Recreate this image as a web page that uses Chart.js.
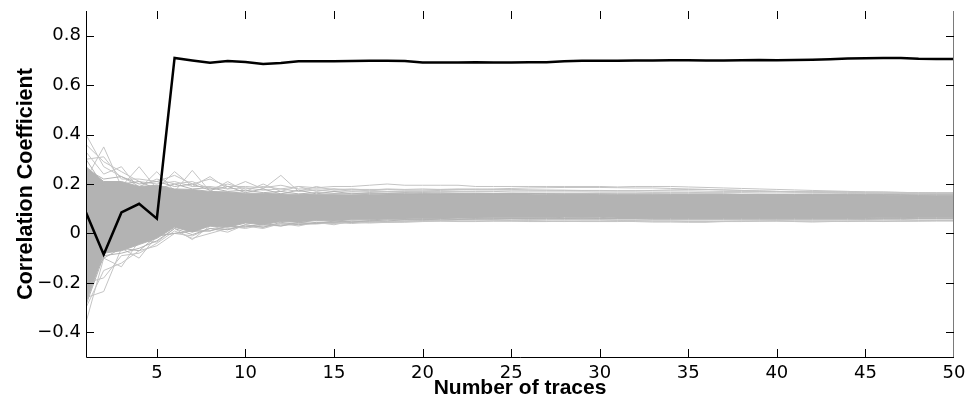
<!DOCTYPE html>
<html><head><meta charset="utf-8">
<script src="https://cdn.jsdelivr.net/npm/chart.js@4/dist/chart.umd.min.js"></script>
<style>html,body{margin:0;padding:0;background:#fff;}canvas{display:block;}</style>
</head><body>
<canvas id="c" width="965" height="403"></canvas>
<script>
const traces = [1,2,3,4,5,6,7,8,9,10,11,12,13,14,15,16,17,18,19,20,21,22,23,24,25,26,27,28,29,30,31,32,33,34,35,36,37,38,39,40,41,42,43,44,45,46,47,48,49,50];
const xTickValues = [5,10,15,20,25,30,35,40,45,50];
const yTickValues = [-0.4,-0.2,0,0.2,0.4,0.6,0.8];
const yTickLabels = ['\u22120.4','\u22120.2','0','0.2','0.4','0.6','0.8'];

// correct key guess
const correctKey = [0.085,-0.085,0.085,0.12,0.06,0.71,0.70,0.691,0.698,0.694,0.686,0.69,0.697,0.697,0.697,0.698,0.699,0.699,0.698,0.692,0.692,0.692,0.693,0.692,0.692,0.693,0.693,0.697,0.699,0.699,0.699,0.700,0.700,0.701,0.701,0.700,0.700,0.701,0.702,0.701,0.702,0.703,0.705,0.708,0.709,0.71,0.71,0.707,0.706,0.706];

// dense band of wrong key guesses
const bandUpper = [0.27,0.21,0.21,0.19,0.195,0.18,0.178,0.17,0.168,0.163,0.162,0.16,0.158,0.157,0.157,0.156,0.158,0.16,0.16,0.16,0.16,0.16,0.16,0.16,0.16,0.16,0.158,0.158,0.158,0.157,0.156,0.156,0.156,0.156,0.156,0.156,0.156,0.156,0.156,0.156,0.155,0.155,0.155,0.155,0.155,0.155,0.154,0.153,0.152,0.152];
const bandLower = [-0.28,-0.08,-0.07,-0.045,-0.02,0.025,0.005,0.03,0.025,0.042,0.035,0.048,0.045,0.052,0.05,0.055,0.055,0.058,0.058,0.06,0.06,0.062,0.062,0.063,0.063,0.063,0.063,0.065,0.065,0.065,0.062,0.062,0.062,0.062,0.062,0.062,0.062,0.062,0.062,0.062,0.062,0.062,0.062,0.062,0.062,0.063,0.064,0.065,0.065,0.065];
const bandEdgeA = [0.26,0.22,0.23,0.20,0.21,0.19,0.20,0.175,0.19,0.165,0.18,0.16,0.175,0.16,0.17,0.16,0.165,0.162,0.165,0.162,0.164,0.162,0.163,0.162,0.162,0.161,0.161,0.16,0.16,0.16,0.159,0.159,0.159,0.158,0.158,0.158,0.158,0.158,0.158,0.157,0.157,0.157,0.157,0.157,0.156,0.156,0.156,0.155,0.155,0.155];
const bandEdgeB = [-0.29,-0.09,-0.08,-0.06,-0.03,0.02,-0.005,0.02,0.015,0.035,0.025,0.045,0.035,0.045,0.045,0.05,0.05,0.055,0.055,0.056,0.058,0.058,0.058,0.06,0.06,0.06,0.06,0.06,0.06,0.06,0.06,0.06,0.058,0.058,0.058,0.058,0.058,0.058,0.058,0.058,0.058,0.058,0.058,0.058,0.058,0.06,0.06,0.06,0.06,0.06];
const bandEdgeC = [0.30,0.19,0.20,0.21,0.18,0.20,0.18,0.185,0.17,0.175,0.165,0.17,0.16,0.165,0.162,0.163,0.162,0.163,0.163,0.165,0.163,0.163,0.162,0.162,0.162,0.162,0.16,0.16,0.16,0.16,0.16,0.16,0.16,0.16,0.16,0.16,0.16,0.158,0.158,0.158,0.158,0.158,0.158,0.158,0.157,0.157,0.157,0.156,0.156,0.156];
const bandEdgeD = [-0.22,-0.10,-0.06,-0.07,-0.01,0.0,0.01,0.01,0.03,0.025,0.04,0.03,0.045,0.04,0.05,0.045,0.052,0.05,0.056,0.055,0.058,0.057,0.06,0.058,0.06,0.06,0.062,0.06,0.062,0.06,0.06,0.06,0.06,0.06,0.06,0.06,0.06,0.06,0.06,0.06,0.06,0.06,0.06,0.06,0.06,0.062,0.062,0.062,0.062,0.062];

// sparse outlying wrong key guesses
const outUp1 = [0.40,0.27,0.23,0.19,0.22,0.20,0.21,0.18,0.20,0.18,0.19,0.18,0.19,0.185,0.19,0.19,0.195,0.20,0.195,0.195,0.195,0.195,0.19,0.19,0.19,0.19,0.19,0.19,0.19,0.19,0.188,0.19,0.19,0.19,0.188,0.186,0.184,0.182,0.18,0.178,0.176,0.174,0.172,0.17,0.168,0.167,0.166,0.165,0.165,0.165];
const outUp2 = [0.22,0.35,0.19,0.27,0.18,0.25,0.19,0.23,0.18,0.21,0.18,0.235,0.17,0.19,0.175,0.18,0.175,0.18,0.178,0.18,0.178,0.178,0.176,0.176,0.175,0.175,0.175,0.175,0.174,0.174,0.173,0.173,0.172,0.172,0.172,0.171,0.17,0.17,0.17,0.17,0.168,0.168,0.167,0.166,0.165,0.164,0.163,0.162,0.162,0.162];
const outUp3 = [0.33,0.24,0.27,0.18,0.25,0.17,0.255,0.17,0.21,0.17,0.20,0.17,0.19,0.17,0.18,0.17,0.175,0.17,0.17,0.17,0.17,0.17,0.17,0.17,0.168,0.168,0.168,0.168,0.168,0.167,0.167,0.167,0.166,0.166,0.166,0.165,0.165,0.165,0.164,0.164,0.164,0.163,0.163,0.162,0.162,0.161,0.161,0.16,0.16,0.16];
const outUp4 = [0.30,0.31,0.22,0.22,0.21,0.235,0.20,0.22,0.19,0.19,0.185,0.195,0.18,0.18,0.18,0.178,0.178,0.178,0.176,0.176,0.178,0.18,0.18,0.178,0.178,0.176,0.175,0.174,0.173,0.172,0.172,0.172,0.174,0.176,0.178,0.178,0.176,0.174,0.172,0.17,0.17,0.17,0.17,0.17,0.168,0.168,0.166,0.165,0.164,0.164];
const outUp5 = [0.36,0.29,0.25,0.21,0.20,0.21,0.19,0.19,0.18,0.185,0.175,0.18,0.17,0.175,0.17,0.172,0.17,0.17,0.172,0.172,0.174,0.176,0.178,0.18,0.182,0.184,0.185,0.186,0.186,0.186,0.185,0.184,0.184,0.182,0.18,0.178,0.176,0.174,0.172,0.17,0.168,0.166,0.165,0.164,0.163,0.162,0.162,0.161,0.16,0.16];
const outLo1 = [-0.36,-0.10,-0.135,-0.03,-0.035,0.02,-0.025,0.03,0.015,0.03,0.02,0.04,0.035,0.04,0.04,0.045,0.042,0.045,0.045,0.048,0.05,0.05,0.05,0.05,0.05,0.048,0.048,0.05,0.05,0.05,0.05,0.048,0.046,0.046,0.045,0.045,0.048,0.05,0.05,0.05,0.048,0.046,0.048,0.05,0.05,0.05,0.05,0.052,0.052,0.052];
const outLo2 = [-0.26,-0.235,-0.06,-0.10,-0.01,0.0,0.01,0.01,0.03,0.02,0.035,0.03,0.04,0.038,0.045,0.04,0.045,0.045,0.048,0.05,0.052,0.055,0.055,0.054,0.052,0.05,0.05,0.048,0.05,0.05,0.052,0.052,0.05,0.05,0.048,0.048,0.05,0.05,0.05,0.052,0.05,0.05,0.05,0.048,0.05,0.05,0.05,0.05,0.052,0.052];
const outLo3 = [-0.30,-0.15,-0.12,-0.07,-0.05,0.0,-0.01,0.02,0.005,0.035,0.025,0.04,0.03,0.045,0.035,0.05,0.045,0.05,0.05,0.052,0.052,0.055,0.055,0.055,0.055,0.056,0.056,0.056,0.056,0.056,0.055,0.055,0.055,0.055,0.055,0.055,0.055,0.055,0.055,0.055,0.055,0.055,0.055,0.055,0.056,0.056,0.056,0.058,0.058,0.058];
const outLo4 = [-0.20,-0.18,-0.09,-0.08,-0.04,0.01,-0.02,0.0,0.02,0.028,0.03,0.035,0.04,0.04,0.042,0.045,0.048,0.046,0.05,0.05,0.05,0.048,0.048,0.05,0.05,0.052,0.05,0.05,0.048,0.048,0.048,0.05,0.05,0.05,0.05,0.05,0.048,0.048,0.05,0.05,0.05,0.05,0.05,0.05,0.05,0.048,0.05,0.05,0.05,0.05];

const pts = arr => arr.map((v,i)=>({x:traces[i], y:v}));
const BAND = '#b3b3b3', LIGHT = '#c4c4c4';
const line = (arr, color, w) => ({data:pts(arr), borderColor:color, borderWidth:w, pointRadius:0, tension:0, fill:false});

const datasets = [
  line(correctKey, '#000', 2.5),
  line(bandEdgeA, BAND, 1),
  line(bandEdgeB, BAND, 1),
  line(bandEdgeC, BAND, 1),
  line(bandEdgeD, BAND, 1),
  Object.assign(line(bandUpper, BAND, 1), {fill:'+1', backgroundColor:BAND}),
  line(bandLower, BAND, 1),
  line(outUp1, LIGHT, 1), line(outUp2, LIGHT, 1), line(outUp3, LIGHT, 1), line(outUp4, LIGHT, 1), line(outUp5, LIGHT, 1),
  line(outLo1, LIGHT, 1), line(outLo2, LIGHT, 1), line(outLo3, LIGHT, 1), line(outLo4, LIGHT, 1)
];

const frame = {
  id:'frame',
  afterDraw(chart){
    const {ctx, chartArea:a, scales:{x,y}} = chart;
    const L = 8;
    ctx.save();
    ctx.lineWidth = 1;
    ctx.strokeStyle = '#000';
    ctx.beginPath();
    ctx.moveTo(a.left+0.5, a.top); ctx.lineTo(a.left+0.5, a.bottom+0.5); ctx.lineTo(a.right, a.bottom+0.5);
    ctx.stroke();
    ctx.strokeStyle = '#7a7a7a';
    ctx.beginPath(); ctx.moveTo(a.right-0.5, a.top); ctx.lineTo(a.right-0.5, a.bottom); ctx.stroke();
    ctx.strokeStyle = '#000';
    ctx.beginPath();
    xTickValues.forEach(v=>{ const px = Math.round(x.getPixelForValue(v))+0.5;
      if (px < a.right-2) { ctx.moveTo(px, a.bottom); ctx.lineTo(px, a.bottom-L); ctx.moveTo(px, a.top); ctx.lineTo(px, a.top+L); } });
    yTickValues.forEach(v=>{ const py = Math.round(y.getPixelForValue(v))+0.5;
      ctx.moveTo(a.left, py); ctx.lineTo(a.left+L, py); ctx.moveTo(a.right, py); ctx.lineTo(a.right-L, py); });
    ctx.stroke();
    ctx.restore();
  }
};

new Chart(document.getElementById('c'), {
  type:'line',
  data:{datasets},
  options:{
    responsive:false, animation:false, devicePixelRatio:1,
    layout:{padding:{left:0,right:11,top:11,bottom:0}},
    plugins:{legend:{display:false}, tooltip:{enabled:false}},
    scales:{
      x:{type:'linear', min:1, max:50,
        afterBuildTicks:s=>{ s.ticks = xTickValues.map(v=>({value:v})); },
        afterFit:s=>{ s.height = 46; s.paddingLeft = 0; s.paddingRight = 0; },
        grid:{display:false, drawTicks:false}, border:{display:false},
        ticks:{padding:5.5, color:'#000', font:{family:'DejaVu Sans', size:18}, maxRotation:0, autoSkip:false},
        title:{display:true, text:'Number of traces', color:'#000', font:{family:'Liberation Sans', size:21, weight:'bold'}, padding:{top:0,bottom:2.5}}
      },
      y:{type:'linear', min:-0.5, max:0.9,
        afterBuildTicks:s=>{ s.ticks = yTickValues.map(v=>({value:v})); },
        afterFit:s=>{ s.width = 86; s.paddingTop = 0; s.paddingBottom = 0; },
        grid:{display:false, drawTicks:false}, border:{display:false},
        ticks:{padding:5, color:'#000', font:{family:'DejaVu Sans', size:18},
          callback:(v)=>{ const i = yTickValues.findIndex(t=>Math.abs(t-v)<1e-9); return i>=0 ? yTickLabels[i] : ''; }},
        title:{display:true, text:'Correlation Coefficient', color:'#000', font:{family:'Liberation Sans', size:21.5, weight:'bold'}, padding:{top:13,bottom:0}}
      }
    }
  },
  plugins:[frame]
});
</script>
</body></html>
